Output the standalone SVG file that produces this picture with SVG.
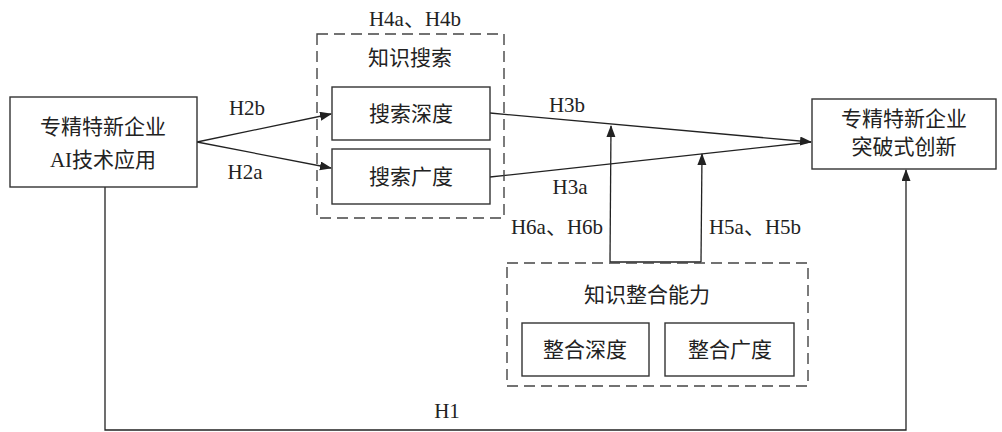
<svg xmlns="http://www.w3.org/2000/svg" width="1002" height="432" viewBox="0 0 1002 432">
<style>
.box{fill:#fff;stroke:#333;stroke-width:1.4}
.dash{fill:none;stroke:#444;stroke-width:1.4;stroke-dasharray:11 6}
.ln{fill:none;stroke:#222;stroke-width:1.3}
text{font-family:"Liberation Serif","Noto Sans CJK SC",serif;fill:#222;text-anchor:middle;dominant-baseline:central}
.cn{font-size:21px}
.lb{font-size:21px}
</style>
<defs>
<marker id="ah" markerUnits="userSpaceOnUse" markerWidth="12" markerHeight="10" refX="11" refY="4.5" orient="auto">
<path d="M0,0 L12,4.5 L0,9 z" fill="#222"/>
</marker>
</defs>
<rect width="1002" height="432" fill="#fff"/>
<g id="connectors">
<path class="ln" d="M197,142 L331,114" marker-end="url(#ah)"/>
<path class="ln" d="M197,142 L331,168" marker-end="url(#ah)"/>
<path class="ln" d="M490,113 L811,142" marker-end="url(#ah)"/>
<path class="ln" d="M490,177 L811,142"/>
<path class="ln" d="M610,262 L701,262"/>
<path class="ln" d="M610,262 L611,126" marker-end="url(#ah)"/>
<path class="ln" d="M701,262 L702,154" marker-end="url(#ah)"/>
<path class="ln" d="M105,187 L105,430 L906,430 L906,170" marker-end="url(#ah)"/>
<text class="lb" x="247" y="108">H2b</text>
<text class="lb" x="245" y="172">H2a</text>
<text class="lb" x="567" y="105">H3b</text>
<text class="lb" x="570" y="187">H3a</text>
<text class="lb" x="557" y="227">H6a、H6b</text>
<text class="lb" x="755" y="227">H5a、H5b</text>
<text class="lb" x="447" y="411">H1</text>
</g>
<g id="ai">
<rect class="box" x="10" y="97" width="187" height="90"/>
<text class="cn" x="103" y="127">专精特新企业</text>
<text class="cn" x="103" y="160">AI技术应用</text>
</g>
<g id="search">
<rect class="dash" x="317" y="34" width="187" height="184"/>
<text class="lb" x="415" y="19">H4a、H4b</text>
<text class="cn" x="410" y="58">知识搜索</text>
</g>
<g id="search-depth">
<rect class="box" x="332" y="87" width="158" height="53"/>
<text class="cn" x="411" y="114">搜索深度</text>
</g>
<g id="search-breadth">
<rect class="box" x="332" y="149" width="158" height="55"/>
<text class="cn" x="411" y="177">搜索广度</text>
</g>
<g id="innovation">
<rect class="box" x="812" y="99" width="184" height="70"/>
<text class="cn" x="904" y="119">专精特新企业</text>
<text class="cn" x="904" y="147">突破式创新</text>
</g>
<g id="integration">
<rect class="dash" x="507" y="263" width="301" height="123"/>
<text class="cn" x="647" y="295">知识整合能力</text>
</g>
<g id="integration-depth">
<rect class="box" x="522" y="323" width="127" height="53"/>
<text class="cn" x="585" y="350">整合深度</text>
</g>
<g id="integration-breadth">
<rect class="box" x="665" y="323" width="129" height="53"/>
<text class="cn" x="730" y="350">整合广度</text>
</g>
</svg>
